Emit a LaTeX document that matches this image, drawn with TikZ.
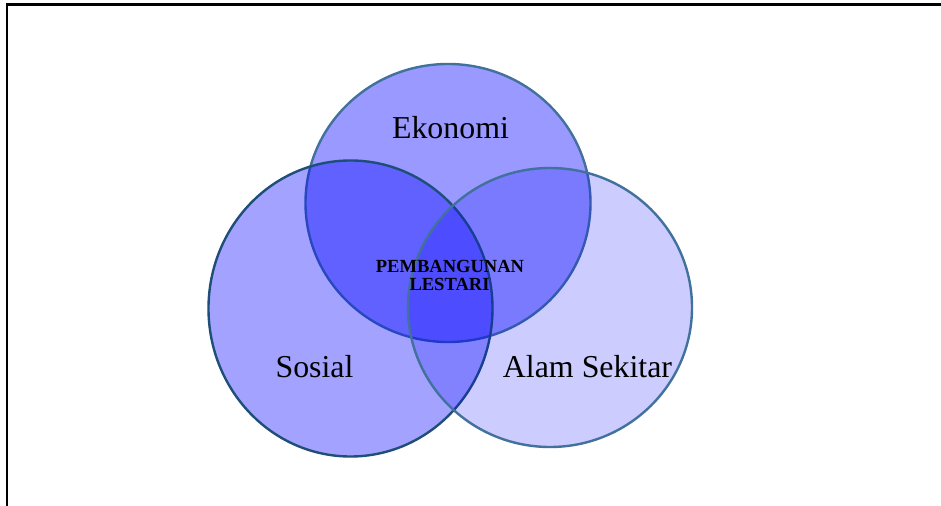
\documentclass[tikz,border=0pt]{standalone}
\usepackage{fontspec}
\setmainfont{Liberation Serif}
\definecolor{vblue}{RGB}{0,0,255}
\definecolor{edgeA}{RGB}{65,113,156}
\definecolor{edgeB}{RGB}{31,78,121}
\begin{document}
\begin{tikzpicture}[x=1bp,y=-1bp,
  setcircle/.style={line width=2.4bp},
  biglabel/.style={font=\fontsize{32}{35}\selectfont, inner sep=0pt},
  smalllabel/.style={font=\fontsize{18.6}{18}\selectfont\bfseries, inner sep=0pt, align=center}]
\useasboundingbox (0,0) rectangle (941,506);
\fill[white] (0,0) rectangle (941,506);
% frame
\draw[line width=2.8bp, black] (7,506) -- (7,4.5) -- (941,4.5);
% circles
\path[setcircle, draw=edgeA, fill=vblue, fill opacity=0.4] (448,203) ellipse [x radius=142.5, y radius=139];
\path[setcircle, draw=edgeB, fill=vblue, fill opacity=0.36] (350.5,308.5) ellipse [x radius=142, y radius=148];
\path[setcircle, draw=edgeA, fill=vblue, fill opacity=0.2] (550,307.5) ellipse [x radius=142, y radius=139.5];
% labels
\node[biglabel] (eko) at (450.5,128) {Ekonomi};
\node[biglabel] (sos) at (314.5,367) {Sosial};
\node[biglabel] (alam) at (587.5,367) {Alam Sekitar};
\node[smalllabel] (pl1) at (450,266.5) {PEMBANGUNAN};
\node[smalllabel] (pl2) at (449.5,284.5) {LESTARI};
\end{tikzpicture}
\end{document}
